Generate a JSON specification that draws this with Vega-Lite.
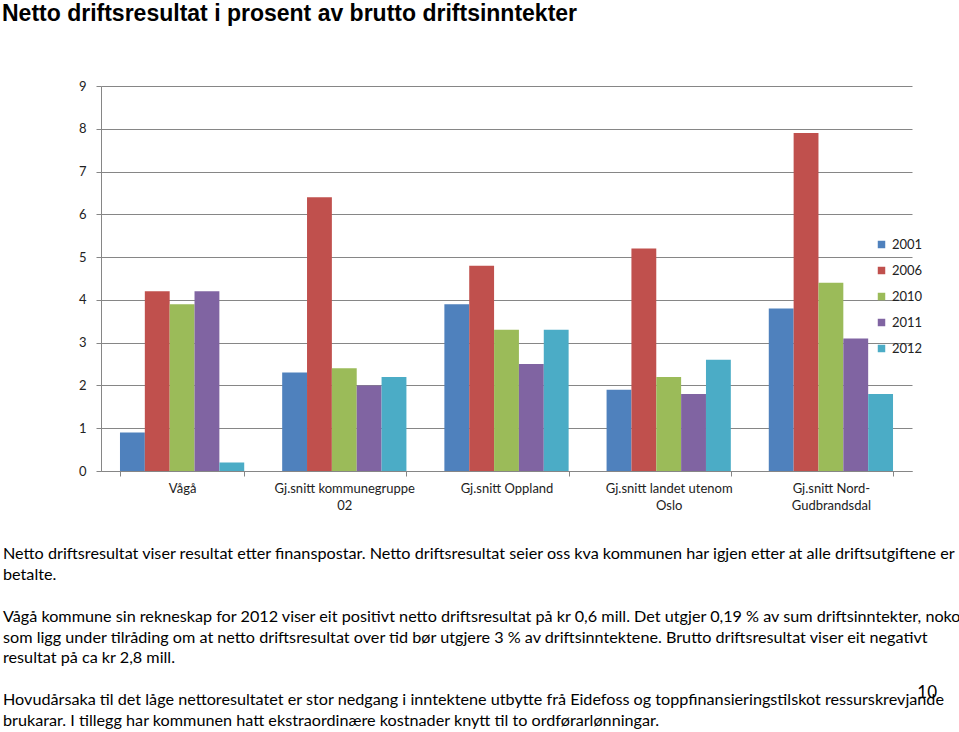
{
  "$schema": "https://vega.github.io/schema/vega-lite/v6.json",
  "background": "white",
  "padding": {"left": 2, "top": 3, "right": 2, "bottom": 0},
  "title": {"text": "Netto driftsresultat i prosent av brutto driftsinntekter", "anchor": "start", "frame": "bounds", "font": "Liberation Sans", "fontSize": 23, "fontWeight": "bold", "color": "#000000", "offset": 54},
  "config": {"view": {"stroke": null}, "concat": {"spacing": 34}},
  "vconcat": [
    {
      "width": 811,
      "height": 385,
      "data": {"values": [
        {"kategori": "Vågå", "år": "2001", "verdi": 0.9},
        {"kategori": "Vågå", "år": "2006", "verdi": 4.2},
        {"kategori": "Vågå", "år": "2010", "verdi": 3.9},
        {"kategori": "Vågå", "år": "2011", "verdi": 4.2},
        {"kategori": "Vågå", "år": "2012", "verdi": 0.2},
        {"kategori": "Gj.snitt kommunegruppe 02", "år": "2001", "verdi": 2.3},
        {"kategori": "Gj.snitt kommunegruppe 02", "år": "2006", "verdi": 6.4},
        {"kategori": "Gj.snitt kommunegruppe 02", "år": "2010", "verdi": 2.4},
        {"kategori": "Gj.snitt kommunegruppe 02", "år": "2011", "verdi": 2.0},
        {"kategori": "Gj.snitt kommunegruppe 02", "år": "2012", "verdi": 2.2},
        {"kategori": "Gj.snitt Oppland", "år": "2001", "verdi": 3.9},
        {"kategori": "Gj.snitt Oppland", "år": "2006", "verdi": 4.8},
        {"kategori": "Gj.snitt Oppland", "år": "2010", "verdi": 3.3},
        {"kategori": "Gj.snitt Oppland", "år": "2011", "verdi": 2.5},
        {"kategori": "Gj.snitt Oppland", "år": "2012", "verdi": 3.3},
        {"kategori": "Gj.snitt landet utenom Oslo", "år": "2001", "verdi": 1.9},
        {"kategori": "Gj.snitt landet utenom Oslo", "år": "2006", "verdi": 5.2},
        {"kategori": "Gj.snitt landet utenom Oslo", "år": "2010", "verdi": 2.2},
        {"kategori": "Gj.snitt landet utenom Oslo", "år": "2011", "verdi": 1.8},
        {"kategori": "Gj.snitt landet utenom Oslo", "år": "2012", "verdi": 2.6},
        {"kategori": "Gj.snitt Nord-Gudbrandsdal", "år": "2001", "verdi": 3.8},
        {"kategori": "Gj.snitt Nord-Gudbrandsdal", "år": "2006", "verdi": 7.9},
        {"kategori": "Gj.snitt Nord-Gudbrandsdal", "år": "2010", "verdi": 4.4},
        {"kategori": "Gj.snitt Nord-Gudbrandsdal", "år": "2011", "verdi": 3.1},
        {"kategori": "Gj.snitt Nord-Gudbrandsdal", "år": "2012", "verdi": 1.8}
      ]},
      "mark": {"type": "bar"},
      "encoding": {
        "x": {
          "field": "kategori", "type": "nominal", "sort": null,
          "scale": {"paddingInner": 0.234, "paddingOuter": 0.117},
          "axis": {
            "title": null, "labelAngle": 0, "labelLimit": 300,
            "labelExpr": "datum.label == 'Gj.snitt kommunegruppe 02' ? ['Gj.snitt kommunegruppe', '02'] : datum.label == 'Gj.snitt landet utenom Oslo' ? ['Gj.snitt landet utenom', 'Oslo'] : datum.label == 'Gj.snitt Nord-Gudbrandsdal' ? ['Gj.snitt Nord-', 'Gudbrandsdal'] : datum.label",
            "labelFont": "Lato", "labelFontSize": 13, "labelColor": "#222222", "labelLineHeight": 17, "labelPadding": 6,
            "tickBand": "extent", "tickSize": 5, "tickColor": "#868686", "domainColor": "#868686"
          }
        },
        "xOffset": {"field": "år", "type": "nominal"},
        "y": {
          "field": "verdi", "type": "quantitative",
          "scale": {"domain": [0, 9], "nice": false},
          "axis": {
            "title": null, "values": [0, 1, 2, 3, 4, 5, 6, 7, 8, 9], "grid": true, "gridColor": "#868686",
            "domainColor": "#868686", "tickColor": "#868686", "tickSize": 5, "labelPadding": 10,
            "labelFont": "Lato", "labelFontSize": 13, "labelColor": "#222222", "minExtent": 99, "maxExtent": 99
          }
        },
        "color": {
          "field": "år", "type": "nominal",
          "scale": {"domain": ["2001", "2006", "2010", "2011", "2012"], "range": ["#4F81BD", "#C0504D", "#9BBB59", "#8064A2", "#4BACC6"]},
          "legend": {
            "title": null, "orient": "none", "legendX": 774, "legendY": 152, "padding": 0,
            "symbolType": "square", "symbolSize": 56, "symbolStrokeWidth": 0, "symbolOpacity": 1,
            "labelFont": "Lato", "labelFontSize": 13, "labelColor": "#222222", "labelOffset": 4, "rowPadding": 12
          }
        }
      }
    },
    {
      "width": 735,
      "height": 167,
      "layer": [
        {
          "data": {"values": [
            {"linje": 0, "tekst": "Netto driftsresultat viser resultat etter finanspostar. Netto driftsresultat seier oss kva kommunen har igjen etter at alle driftsutgiftene er"},
            {"linje": 1, "tekst": "betalte."},
            {"linje": 3, "tekst": "Vågå kommune sin rekneskap for 2012 viser eit positivt netto driftsresultat på kr 0,6 mill. Det utgjer 0,19 % av sum driftsinntekter, noko"},
            {"linje": 4, "tekst": "som ligg under tilråding om at netto driftsresultat over tid bør utgjere 3 % av driftsinntektene. Brutto driftsresultat viser eit negativt"},
            {"linje": 5, "tekst": "resultat på ca kr 2,8 mill."},
            {"linje": 7, "tekst": "Hovudårsaka til det låge nettoresultatet er stor nedgang i inntektene utbytte frå Eidefoss og toppfinansieringstilskot ressurskrevjande"},
            {"linje": 8, "tekst": "brukarar. I tillegg har kommunen hatt ekstraordinære kostnader knytt til to ordførarlønningar."}
          ]},
          "mark": {"type": "text", "align": "left", "baseline": "middle", "font": "Lato", "fontSize": 16.2, "color": "#000000"},
          "encoding": {
            "x": {"datum": 0, "type": "quantitative", "scale": {"domain": [0, 1], "range": [-98, 836]}, "axis": null},
            "y": {"field": "linje", "type": "quantitative", "scale": {"domain": [0, 8], "reverse": true}, "axis": null},
            "text": {"field": "tekst"}
          }
        },
        {
          "data": {"values": [{"tekst": "10"}]},
          "mark": {"type": "text", "align": "right", "baseline": "middle", "font": "Lato", "fontSize": 17, "color": "#000000"},
          "encoding": {
            "x": {"datum": 1, "type": "quantitative"},
            "y": {"datum": 6.67, "type": "quantitative"},
            "text": {"field": "tekst"}
          }
        }
      ]
    }
  ]
}
